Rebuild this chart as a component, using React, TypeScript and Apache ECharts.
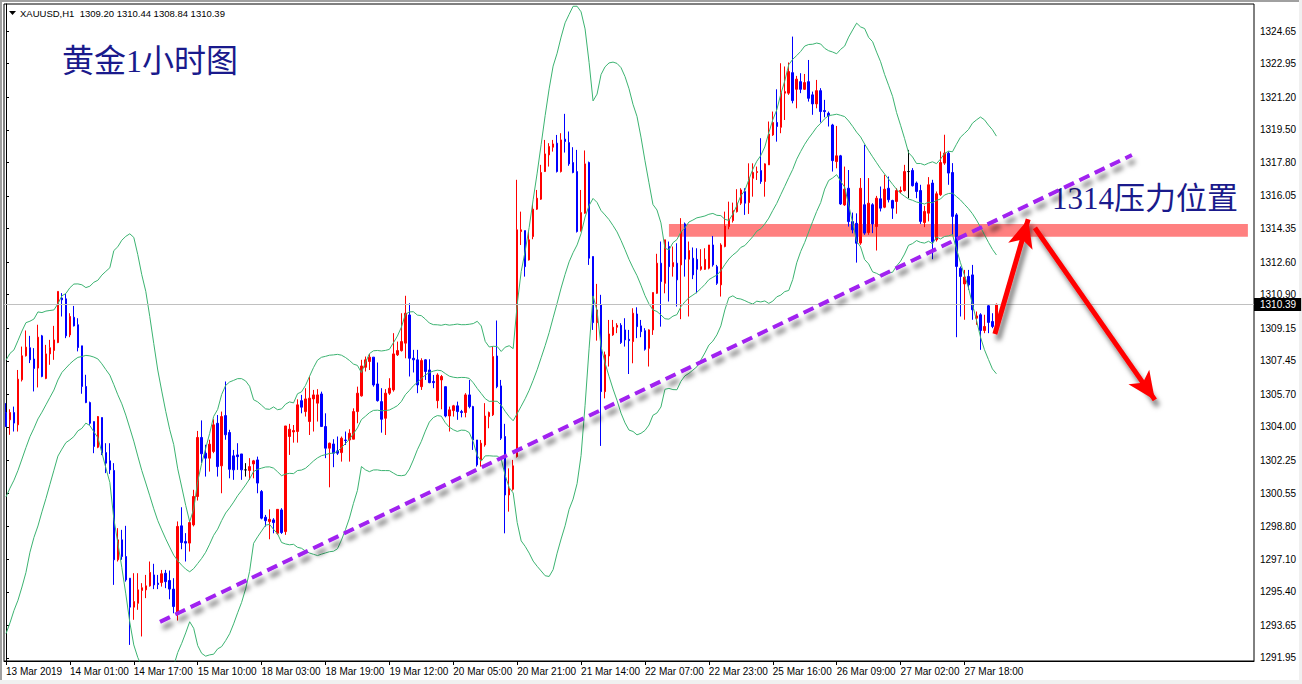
import React, { useEffect, useRef } from "react";
import * as echarts from "echarts";

const symbolName = "XAUUSD,H1";

const tickLabels = [
  "13 Mar 2019", "14 Mar 01:00", "14 Mar 17:00", "15 Mar 10:00", "18 Mar 03:00",
  "18 Mar 19:00", "19 Mar 12:00", "20 Mar 05:00", "20 Mar 21:00", "21 Mar 14:00",
  "22 Mar 07:00", "22 Mar 23:00", "25 Mar 16:00", "26 Mar 09:00", "27 Mar 02:00",
  "27 Mar 18:00",
];
const barsPerLabel = 16;

const yTickValues = [
  1324.65, 1322.95, 1321.2, 1319.5, 1317.8, 1316.05, 1314.35, 1312.6, 1310.9, 1309.15,
  1307.45, 1305.7, 1304.0, 1302.25, 1300.55, 1298.8, 1297.1, 1295.4, 1293.65, 1291.95,
];
const yMin = 1291.79;
const yMax = 1326.06;
const slotCount = 313;

// estimated closes of the 19 hours before the first visible bar (Bollinger warm-up)
const priorCloses = [
  1295.6, 1295.9, 1296.3, 1295.8, 1296.2, 1296.2, 1298.2, 1299.0, 1299.6, 1300.1,
  1300.4, 1300.9, 1300.5, 1302.8, 1304.2, 1305.3, 1305.6, 1305.1, 1305.26,
];

const opens = [
  1304.75, 1304.37, 1304.75, 1304.11, 1306.46, 1307.71, 1308.13, 1307.54, 1307.07, 1308.75,
  1306.53, 1307.81, 1307.99, 1308.40, 1310.72, 1310.68, 1308.80, 1309.72, 1309.33, 1308.23,
  1306.11, 1305.27, 1304.28, 1302.94, 1304.49, 1302.66, 1302.23, 1301.73, 1297.07, 1298.11,
  1297.24, 1296.11, 1294.60, 1294.80, 1295.47, 1295.50, 1295.71, 1296.28, 1295.85, 1295.88,
  1296.37, 1295.99, 1295.54, 1294.32, 1298.84, 1298.02, 1297.94, 1298.89, 1300.37, 1303.45,
  1302.63, 1302.37, 1302.72, 1304.19, 1301.97, 1304.59, 1303.71, 1302.49, 1302.54, 1302.59,
  1301.76, 1301.73, 1302.07, 1302.28, 1300.63, 1299.29, 1299.06, 1299.15, 1298.45, 1299.67,
  1298.54, 1303.50, 1303.74, 1303.76, 1305.37, 1304.80, 1304.28, 1305.46, 1305.24, 1305.72,
  1304.02, 1302.89, 1303.11, 1302.75, 1302.66, 1303.32, 1303.32, 1303.36, 1304.80, 1305.62,
  1307.11, 1307.41, 1307.64, 1306.24, 1305.32, 1304.45, 1305.76, 1305.93, 1307.76, 1307.98,
  1308.37, 1309.84, 1307.58, 1307.50, 1306.10, 1307.50, 1306.97, 1306.37, 1305.37, 1306.45,
  1306.10, 1304.57, 1304.85, 1305.10, 1304.80, 1304.75, 1305.67, 1305.06, 1303.32, 1302.28,
  1303.06, 1304.54, 1304.63, 1307.70, 1306.14, 1303.50, 1300.45, 1300.75, 1302.45, 1314.19,
  1314.24, 1312.71, 1313.93, 1315.36, 1315.88, 1317.32, 1318.19, 1318.59, 1318.80, 1317.32,
  1319.01, 1318.83, 1317.79, 1317.32, 1314.24, 1315.15, 1317.79, 1312.89, 1309.44, 1310.36,
  1305.84, 1307.70, 1308.80, 1309.20, 1309.30, 1309.06, 1308.57, 1308.45, 1309.89, 1309.27,
  1309.02, 1308.10, 1309.06, 1310.97, 1312.54, 1311.49, 1313.41, 1312.36, 1312.54, 1312.45,
  1314.59, 1312.75, 1312.80, 1312.74, 1312.22, 1312.22, 1312.28, 1313.49, 1312.36, 1311.41,
  1313.41, 1314.45, 1314.76, 1315.23, 1315.67, 1316.28, 1315.70, 1316.97, 1317.27, 1317.37,
  1316.80, 1317.67, 1319.23, 1319.88, 1319.63, 1321.41, 1321.41, 1322.48, 1321.61, 1322.01,
  1321.61, 1322.01, 1321.32, 1320.85, 1321.54, 1320.50, 1320.36, 1319.75, 1317.84, 1318.14,
  1315.58, 1316.45, 1314.71, 1314.62, 1313.59, 1315.59, 1314.14, 1315.59, 1314.45, 1315.90,
  1315.46, 1316.45, 1315.81, 1315.76, 1316.28, 1316.33, 1317.32, 1317.38, 1316.72, 1316.33,
  1314.66, 1315.15, 1316.72, 1313.76, 1316.11, 1317.76, 1318.28, 1317.27, 1315.06, 1312.28,
  1311.46, 1311.85, 1311.93, 1309.67, 1309.85, 1309.03, 1310.32, 1309.50, 1309.20,
];
const highs = [
  1305.24, 1304.92, 1305.06, 1306.97, 1308.19, 1309.03, 1308.75, 1308.11, 1309.33, 1308.80,
  1308.28, 1308.54, 1309.27, 1311.07, 1310.98, 1310.94, 1309.93, 1310.31, 1309.67, 1308.23,
  1306.72, 1305.32, 1304.28, 1304.57, 1304.49, 1303.15, 1303.15, 1302.11, 1298.72, 1298.63,
  1298.84, 1296.11, 1296.37, 1296.37, 1295.85, 1296.28, 1296.98, 1296.86, 1296.28, 1296.54,
  1296.54, 1296.51, 1296.11, 1299.07, 1299.81, 1298.46, 1299.15, 1300.72, 1303.79, 1304.34,
  1303.07, 1303.33, 1304.40, 1304.62, 1304.80, 1306.37, 1303.85, 1302.80, 1303.15, 1302.59,
  1302.11, 1302.37, 1302.28, 1302.45, 1300.71, 1299.41, 1299.70, 1299.24, 1299.70, 1299.76,
  1304.05, 1304.16, 1304.10, 1305.44, 1305.67, 1306.02, 1306.63, 1305.93, 1305.97, 1305.84,
  1304.71, 1303.18, 1303.36, 1303.50, 1303.50, 1303.76, 1303.88, 1304.97, 1306.10, 1307.50,
  1307.67, 1307.81, 1307.64, 1307.36, 1306.02, 1305.97, 1306.54, 1308.89, 1308.45, 1309.93,
  1310.84, 1310.45, 1308.02, 1308.02, 1307.58, 1307.53, 1307.53, 1306.71, 1306.80, 1306.71,
  1306.10, 1305.06, 1305.15, 1305.32, 1304.89, 1305.76, 1306.45, 1305.10, 1303.32, 1303.32,
  1305.24, 1304.80, 1308.19, 1309.55, 1306.45, 1304.16, 1301.84, 1302.28, 1316.89, 1315.23,
  1314.24, 1314.19, 1315.63, 1316.36, 1317.67, 1318.97, 1318.80, 1318.97, 1319.23, 1319.32,
  1320.33, 1319.41, 1318.59, 1318.45, 1316.36, 1318.42, 1317.84, 1312.89, 1311.46, 1310.89,
  1307.93, 1309.58, 1309.58, 1309.41, 1309.41, 1309.67, 1309.06, 1310.19, 1310.24, 1309.58,
  1309.15, 1309.09, 1311.01, 1313.03, 1313.67, 1313.76, 1313.67, 1313.41, 1313.58, 1314.89,
  1314.66, 1313.67, 1313.36, 1313.32, 1313.27, 1313.32, 1313.49, 1313.96, 1312.45, 1313.58,
  1315.23, 1315.75, 1315.70, 1316.40, 1316.45, 1316.45, 1317.75, 1317.75, 1317.58, 1319.06,
  1317.75, 1319.93, 1320.45, 1321.61, 1322.97, 1322.80, 1323.01, 1324.36, 1322.31, 1322.45,
  1322.41, 1323.14, 1321.49, 1322.10, 1321.67, 1321.06, 1320.45, 1319.81, 1319.70, 1318.19,
  1317.58, 1317.40, 1315.18, 1315.14, 1316.98, 1318.72, 1316.98, 1315.67, 1316.05, 1316.54,
  1317.15, 1317.06, 1315.85, 1316.45, 1316.54, 1317.67, 1318.45, 1317.50, 1316.80, 1316.63,
  1315.53, 1317.03, 1316.89, 1316.28, 1318.37, 1319.24, 1318.37, 1317.76, 1315.15, 1312.37,
  1312.19, 1312.19, 1312.45, 1310.02, 1309.93, 1309.85, 1310.37, 1309.93, 1310.44,
];
const lows = [
  1304.00, 1303.59, 1303.76, 1303.76, 1306.37, 1307.67, 1307.33, 1305.85, 1306.06, 1306.59,
  1306.49, 1307.24, 1307.50, 1308.37, 1309.76, 1308.63, 1308.68, 1309.24, 1307.94, 1305.73,
  1305.24, 1304.11, 1302.63, 1302.89, 1302.53, 1301.59, 1301.55, 1295.76, 1296.98, 1297.07,
  1295.93, 1292.63, 1293.94, 1294.46, 1293.07, 1295.07, 1295.67, 1295.54, 1295.54, 1295.67,
  1295.59, 1295.01, 1294.28, 1293.90, 1297.62, 1296.98, 1297.50, 1298.81, 1300.16, 1302.11,
  1301.41, 1301.67, 1302.63, 1301.41, 1300.54, 1303.33, 1301.32, 1301.24, 1301.76, 1301.24,
  1301.41, 1301.24, 1301.32, 1300.54, 1299.18, 1298.80, 1298.14, 1298.45, 1298.37, 1298.42,
  1298.37, 1302.54, 1303.18, 1303.18, 1304.71, 1304.54, 1303.58, 1303.76, 1304.28, 1304.02,
  1302.37, 1300.85, 1301.90, 1302.54, 1302.19, 1303.06, 1302.19, 1303.36, 1304.19, 1305.58,
  1306.89, 1306.97, 1306.10, 1305.32, 1303.70, 1303.58, 1305.67, 1305.84, 1307.70, 1307.93,
  1307.58, 1306.63, 1306.84, 1305.76, 1305.93, 1306.45, 1306.28, 1306.02, 1304.97, 1304.92,
  1304.50, 1303.76, 1304.54, 1304.37, 1304.50, 1304.50, 1304.97, 1302.80, 1301.93, 1301.93,
  1302.97, 1303.93, 1304.57, 1306.02, 1303.32, 1298.45, 1299.58, 1300.68, 1302.40, 1313.49,
  1311.84, 1312.68, 1313.79, 1315.32, 1315.84, 1317.30, 1317.58, 1318.36, 1317.27, 1317.27,
  1318.31, 1317.62, 1317.23, 1314.14, 1314.19, 1315.12, 1312.45, 1309.06, 1308.50, 1303.01,
  1305.49, 1307.15, 1308.75, 1308.89, 1308.33, 1308.19, 1306.76, 1307.32, 1308.63, 1308.68,
  1307.98, 1307.15, 1308.80, 1310.94, 1309.23, 1310.97, 1310.54, 1311.84, 1310.28, 1309.62,
  1311.84, 1309.76, 1311.71, 1310.97, 1312.15, 1312.19, 1312.22, 1312.36, 1311.41, 1310.80,
  1313.37, 1314.31, 1314.66, 1315.18, 1315.58, 1315.06, 1315.11, 1316.01, 1316.88, 1316.68,
  1316.01, 1317.67, 1319.18, 1318.88, 1319.32, 1320.01, 1321.32, 1320.88, 1320.62, 1321.41,
  1321.58, 1320.97, 1320.28, 1320.62, 1319.88, 1320.15, 1319.67, 1317.32, 1317.49, 1315.58,
  1315.53, 1314.45, 1314.10, 1312.57, 1313.50, 1314.02, 1314.02, 1314.11, 1313.20, 1315.24,
  1315.41, 1315.71, 1314.85, 1315.12, 1316.19, 1316.28, 1315.93, 1316.54, 1315.93, 1314.59,
  1314.42, 1314.72, 1312.75, 1313.67, 1316.05, 1317.67, 1316.63, 1314.02, 1308.68, 1309.76,
  1309.59, 1311.15, 1309.59, 1309.33, 1308.02, 1308.89, 1308.89, 1309.15, 1308.84,
];
const closes = [
  1304.02, 1304.75, 1304.20, 1306.49, 1307.71, 1308.16, 1307.50, 1307.05, 1308.68, 1306.63,
  1307.81, 1308.13, 1308.54, 1311.07, 1310.63, 1308.75, 1309.76, 1309.27, 1308.14, 1306.11,
  1305.27, 1304.19, 1302.98, 1304.54, 1302.63, 1302.11, 1301.76, 1297.07, 1298.11, 1297.24,
  1296.02, 1294.60, 1294.89, 1295.50, 1295.61, 1295.71, 1296.41, 1295.76, 1295.78, 1296.34,
  1295.93, 1295.54, 1294.63, 1298.81, 1297.97, 1297.94, 1299.01, 1300.37, 1303.45, 1302.60,
  1302.37, 1303.10, 1304.11, 1301.93, 1304.54, 1303.59, 1301.79, 1301.76, 1302.45, 1301.76,
  1301.76, 1301.93, 1302.23, 1301.07, 1299.24, 1299.11, 1299.18, 1299.01, 1299.70, 1298.49,
  1304.05, 1303.88, 1303.81, 1305.15, 1305.03, 1305.46, 1305.50, 1305.67, 1305.67, 1304.02,
  1302.89, 1303.15, 1302.63, 1302.63, 1303.41, 1303.29, 1303.67, 1304.80, 1305.76, 1307.18,
  1307.50, 1307.64, 1306.19, 1305.37, 1304.40, 1305.76, 1306.02, 1307.81, 1307.98, 1308.45,
  1309.93, 1307.58, 1307.50, 1306.19, 1307.46, 1306.89, 1306.31, 1306.31, 1306.71, 1306.63,
  1304.57, 1304.89, 1305.10, 1304.80, 1304.75, 1305.67, 1305.06, 1303.32, 1302.02, 1303.15,
  1304.57, 1304.75, 1307.67, 1306.10, 1303.41, 1300.45, 1300.80, 1301.97, 1314.28, 1314.28,
  1312.36, 1313.76, 1315.36, 1315.93, 1317.27, 1318.24, 1318.63, 1318.76, 1317.32, 1318.97,
  1318.89, 1317.72, 1317.27, 1314.19, 1315.18, 1317.72, 1312.80, 1309.44, 1310.10, 1305.84,
  1307.76, 1308.85, 1309.20, 1309.30, 1308.40, 1308.54, 1308.50, 1309.93, 1309.23, 1308.97,
  1308.05, 1309.06, 1311.01, 1312.54, 1311.58, 1313.76, 1312.36, 1312.57, 1311.67, 1314.19,
  1312.75, 1313.20, 1311.93, 1312.22, 1312.36, 1312.74, 1313.49, 1312.45, 1311.49, 1313.49,
  1314.48, 1314.83, 1315.28, 1315.67, 1316.36, 1315.67, 1316.97, 1317.27, 1317.32, 1316.80,
  1317.72, 1319.28, 1319.88, 1319.67, 1321.44, 1321.49, 1322.54, 1321.02, 1322.14, 1321.61,
  1321.96, 1321.14, 1320.85, 1321.54, 1320.45, 1320.45, 1320.22, 1317.89, 1318.14, 1315.63,
  1316.40, 1314.71, 1314.28, 1313.58, 1316.45, 1314.11, 1315.67, 1314.59, 1315.93, 1315.41,
  1316.40, 1315.85, 1315.41, 1316.33, 1316.33, 1317.32, 1317.32, 1316.58, 1316.28, 1314.72,
  1315.24, 1316.63, 1313.67, 1316.16, 1317.79, 1318.28, 1317.24, 1314.98, 1312.37, 1311.85,
  1311.81, 1311.41, 1310.11, 1309.79, 1309.03, 1309.24, 1309.45, 1309.24, 1310.39,
];

const bandPeriod = 20;
const bandDeviations = 2;

// annotations in (bar position, price) space
const trendLine = [[38.56, 1293.83], [281.92, 1318.18]];
const arrowUp = [[247.62, 1308.85], [255.96, 1314.83]];
const arrowDown = [[257.64, 1314.38], [287.68, 1305.41]];
const pressureZone = { from: 166.0, to: 310.97, top: 1314.59, bottom: 1313.92 };

const titleText = "黄金1小时图";
const pressureText = "1314压力位置";

function computeBands(prior: number[], cl: number[], period: number, k: number) {
  const all = prior.concat(cl);
  const offset = prior.length;
  const mid: number[] = [];
  const up: number[] = [];
  const lo: number[] = [];
  for (let i = 0; i < cl.length; i++) {
    const end = i + offset;
    const start = Math.max(0, end - period + 1);
    const win = all.slice(start, end + 1);
    const m = win.reduce((a, b) => a + b, 0) / win.length;
    const v = win.reduce((a, b) => a + (b - m) * (b - m), 0) / win.length;
    const s = Math.sqrt(v);
    mid.push(+m.toFixed(3));
    up.push(+(m + k * s).toFixed(3));
    lo.push(+(m - k * s).toFixed(3));
  }
  return { mid, up, lo };
}

const FONT = '"Liberation Sans", Arial, sans-serif';

export default function App() {
  const ref = useRef<HTMLDivElement>(null);

  useEffect(() => {
    if (!ref.current) return;
    const chart = echarts.init(ref.current, undefined, { renderer: "svg" });
    const n = opens.length;
    const candles = opens.map((o, i) => [o, closes[i], lows[i], highs[i]]);
    const bands = computeBands(priorCloses, closes, bandPeriod, bandDeviations);
    const last = n - 1;
    const header = `${symbolName}  ${opens[last].toFixed(2)} ${highs[last].toFixed(2)} ${lows[last].toFixed(2)} ${closes[last].toFixed(2)}`;
    const showIdx = (idx: number) => idx % barsPerLabel === 0 && idx / barsPerLabel < tickLabels.length;

    const shadow = {
      shadowColor: "rgba(0,0,0,0.55)",
      shadowBlur: 5,
      shadowOffsetX: 3,
      shadowOffsetY: 6,
    };
    const bandLine = (data: number[]) => ({
      type: "line",
      data,
      xAxisIndex: 0,
      yAxisIndex: 0,
      symbol: "none",
      showSymbol: false,
      silent: true,
      z: 4,
      lineStyle: { color: "#3cb371", width: 1 },
    });

    chart.setOption({
      animation: false,
      grid: {
        left: 4,
        top: 4,
        width: 1250,
        height: 657,
        show: true,
        borderColor: "#000",
        borderWidth: 1,
        backgroundColor: "transparent",
      },
      xAxis: [
        {
          type: "category",
          data: Array.from({ length: slotCount }, (_, i) => String(i)),
          boundaryGap: true,
          axisLine: { show: true, lineStyle: { color: "#000", width: 1 } },
          axisTick: {
            show: true,
            alignWithLabel: true,
            interval: (idx: number) => showIdx(idx),
            length: 4,
            lineStyle: { color: "#000" },
          },
          axisLabel: {
            interval: (idx: number) => showIdx(idx),
            formatter: (_v: string, idx: number) => tickLabels[idx / barsPerLabel] ?? "",
            align: "left",
            margin: 5,
            color: "#000",
            fontSize: 10,
            fontFamily: FONT,
          },
          splitLine: { show: false },
        },
        {
          type: "value",
          min: -0.5,
          max: slotCount - 0.5,
          show: false,
        },
      ],
      yAxis: {
        type: "value",
        position: "right",
        min: yMin,
        max: yMax,
        splitLine: { show: false },
        axisLine: { show: true, lineStyle: { color: "#000", width: 1 } },
        axisTick: {
          show: true,
          length: 3,
          customValues: yTickValues,
          lineStyle: { color: "#000" },
        },
        axisLabel: {
          customValues: yTickValues,
          formatter: (v: number) => v.toFixed(2),
          margin: 6,
          color: "#000",
          fontSize: 10,
          fontFamily: FONT,
        },
      },
      series: [
        {
          type: "line",
          xAxisIndex: 1,
          yAxisIndex: 0,
          data: [],
          z: 1,
          silent: true,
          markArea: {
            silent: true,
            itemStyle: { color: "#ff8080", opacity: 1, borderWidth: 0 },
            data: [
              [
                { coord: [pressureZone.from, pressureZone.top] },
                { coord: [pressureZone.to, pressureZone.bottom] },
              ],
            ],
          },
        },
        {
          type: "candlestick",
          xAxisIndex: 0,
          yAxisIndex: 0,
          data: candles,
          barWidth: 2,
          z: 3,
          silent: true,
          itemStyle: {
            color: "#ff0000",
            color0: "#0000ff",
            borderColor: "#ff0000",
            borderColor0: "#0000ff",
            borderColorDoji: "#000000",
            borderWidth: 1,
          },
          markLine: {
            silent: true,
            symbol: ["none", "none"],
            animation: false,
            data: [
              {
                yAxis: closes[last],
                lineStyle: { color: "#c0c0c0", width: 1, type: "solid" },
                label: {
                  show: true,
                  position: "end",
                  distance: 0,
                  formatter: closes[last].toFixed(2),
                  color: "#fff",
                  backgroundColor: "#000",
                  padding: [2, 5, 1, 6],
                  fontSize: 10,
                  fontFamily: FONT,
                },
              },
            ],
          },
        },
        bandLine(bands.up),
        bandLine(bands.mid),
        bandLine(bands.lo),
        {
          type: "line",
          xAxisIndex: 1,
          yAxisIndex: 0,
          data: [],
          z: 6,
          silent: true,
          markLine: {
            silent: true,
            animation: false,
            label: { show: false },
            emphasis: { disabled: true },
            data: [
              [
                {
                  coord: trendLine[0],
                  symbol: "none",
                  lineStyle: { color: "#a020f0", width: 4, type: [11, 6], ...shadow },
                },
                { coord: trendLine[1], symbol: "none" },
              ],
              [
                {
                  coord: arrowUp[0],
                  symbol: "none",
                  lineStyle: { color: "#ff0000", width: 5, type: "solid", ...shadow },
                },
                { coord: arrowUp[1], symbol: "arrow", symbolSize: [19, 28] },
              ],
              [
                {
                  coord: arrowDown[0],
                  symbol: "none",
                  lineStyle: { color: "#ff0000", width: 5, type: "solid", ...shadow },
                },
                { coord: arrowDown[1], symbol: "arrow", symbolSize: [19, 28] },
              ],
            ],
          },
        },
      ],
      graphic: [
        {
          type: "polygon",
          shape: { points: [[9, 11], [16, 11], [12.5, 15]] },
          style: { fill: "#000" },
          silent: true,
        },
        {
          type: "text",
          x: 20,
          y: 13,
          style: {
            text: header,
            fill: "#000",
            font: `9.5px ${FONT}`,
            textVerticalAlign: "middle",
          },
          silent: true,
        },
        {
          type: "text",
          x: 62,
          y: 45,
          style: {
            text: titleText,
            fill: "#1a1a8c",
            font: '32px "Liberation Serif", "Noto Sans CJK SC", serif',
            textVerticalAlign: "top",
          },
          silent: true,
        },
        {
          type: "text",
          x: 1052,
          y: 183,
          style: {
            text: pressureText,
            fill: "#1a1a8c",
            font: '31px "Liberation Serif", "Noto Sans CJK SC", serif',
            textVerticalAlign: "top",
          },
          silent: true,
        },
      ],
    });
    return () => chart.dispose();
  }, []);

  return (
    <div style={{ position: "fixed", left: 0, top: 0, width: 1302, height: 684, background: "#f0f0f0" }}>
      <div
        style={{
          position: "absolute",
          left: 0,
          top: 0,
          width: 1299,
          height: 680,
          background: "#fff",
          borderLeft: "2px solid #a0a0a0",
          borderTop: "2px solid #a0a0a0",
          boxSizing: "border-box",
        }}
      />
      <div ref={ref} style={{ position: "absolute", left: 0, top: 0, width: 1302, height: 684 }} />
    </div>
  );
}
